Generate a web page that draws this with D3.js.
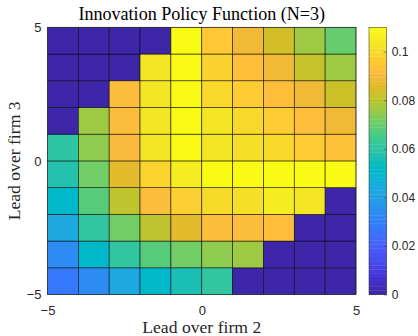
<!DOCTYPE html>
<html><head><meta charset="utf-8">
<script src="https://cdn.jsdelivr.net/npm/d3@7"></script>
<style>body{margin:0;background:#fff}</style>
</head><body><svg id="c" width="418" height="336"></svg>
<script>
// Cell lower-left corners (lead over firm 2 along x, lead over firm 3 along y)
const xLeft = [-5, -4, -3, -2, -1, 0, 1, 2, 3, 4];
const yBottom = [-5, -4, -3, -2, -1, 0, 1, 2, 3, 4];
// Innovation policy values, rows from y = -5 (bottom) upward, columns from x = -5 rightward
const row_m5 = [0.027, 0.033, 0.043, 0.0506, 0.056, 0.061, 0, 0, 0, 0];
const row_m4 = [0.033, 0.0506, 0.061, 0.068, 0.0715, 0.075, 0.077, 0, 0, 0];
const row_m3 = [0.043, 0.061, 0.0715, 0.081, 0.087, 0.092, 0.092, 0.0925, 0, 0];
const row_m2 = [0.0506, 0.068, 0.081, 0.092, 0.098, 0.101, 0.102, 0.1055, 0.104, 0];
const row_m1 = [0.0577, 0.0715, 0.087, 0.099, 0.106, 0.110, 0.110, 0.110, 0.110, 0.110];
const row_0  = [0.060, 0.075, 0.091, 0.104, 0.110, 0.104, 0.102, 0.100, 0.097, 0.094];
const row_1  = [0, 0.077, 0.092, 0.104, 0.110, 0.104, 0.100, 0.097, 0.0925, 0.089];
const row_2  = [0, 0, 0.092, 0.104, 0.110, 0.100, 0.097, 0.0925, 0.089, 0.083];
const row_3  = [0, 0, 0, 0.104, 0.110, 0.0985, 0.0925, 0.089, 0.082, 0.077];
const row_4  = [0, 0, 0, 0, 0.110, 0.096, 0.089, 0.084, 0.077, 0.070];
const rows = [row_m5, row_m4, row_m3, row_m2, row_m1, row_0, row_1, row_2, row_3, row_4];
const xTicks = [-5, 0, 5];
const yTicks = [-5, 0, 5];
const cTicks = [0, 0.02, 0.04, 0.06, 0.08, 0.1];
const cMin = 0, cMax = 0.11;

// MATLAB parula colormap (64 entries)
const parula = [[0.2422,0.1504,0.6603],[0.2504,0.1650,0.7076],[0.2578,0.1818,0.7511],[0.2647,0.1978,0.7952],[0.2706,0.2147,0.8364],[0.2751,0.2342,0.8710],[0.2783,0.2559,0.8991],[0.2803,0.2782,0.9221],[0.2813,0.3006,0.9414],[0.2810,0.3228,0.9579],[0.2795,0.3447,0.9717],[0.2760,0.3667,0.9829],[0.2699,0.3892,0.9906],[0.2602,0.4123,0.9952],[0.2440,0.4358,0.9988],[0.2206,0.4603,0.9973],[0.1963,0.4847,0.9892],[0.1834,0.5074,0.9798],[0.1786,0.5289,0.9682],[0.1764,0.5499,0.9520],[0.1687,0.5703,0.9359],[0.1540,0.5902,0.9218],[0.1460,0.6091,0.9079],[0.1380,0.6276,0.8973],[0.1248,0.6459,0.8883],[0.1113,0.6635,0.8763],[0.0952,0.6798,0.8598],[0.0689,0.6948,0.8394],[0.0297,0.7082,0.8163],[0.0036,0.7203,0.7917],[0.0067,0.7312,0.7660],[0.0433,0.7411,0.7394],[0.0964,0.7500,0.7120],[0.1408,0.7584,0.6842],[0.1717,0.7670,0.6554],[0.1938,0.7758,0.6251],[0.2161,0.7843,0.5923],[0.2470,0.7918,0.5567],[0.2906,0.7973,0.5188],[0.3406,0.8008,0.4789],[0.3909,0.8029,0.4354],[0.4456,0.8024,0.3909],[0.5044,0.7993,0.3480],[0.5616,0.7942,0.3045],[0.6174,0.7876,0.2612],[0.6720,0.7793,0.2227],[0.7242,0.7698,0.1910],[0.7738,0.7598,0.1646],[0.8203,0.7498,0.1535],[0.8634,0.7406,0.1596],[0.9035,0.7330,0.1774],[0.9393,0.7288,0.2100],[0.9728,0.7298,0.2394],[0.9956,0.7434,0.2371],[0.9970,0.7659,0.2199],[0.9952,0.7893,0.2028],[0.9892,0.8136,0.1885],[0.9786,0.8386,0.1766],[0.9676,0.8639,0.1643],[0.9610,0.8890,0.1537],[0.9597,0.9135,0.1423],[0.9628,0.9373,0.1265],[0.9691,0.9606,0.1064],[0.9769,0.9839,0.0805]]
  .map(c => d3.rgb(c[0]*255, c[1]*255, c[2]*255).formatHex());

const color = d3.scaleLinear()
  .domain(parula.map((_, i) => cMin + (cMax - cMin) * i / (parula.length - 1)))
  .range(parula).clamp(true);

const svg = d3.select("#c");
const L = 47.5, R = 356, T = 27.3, B = 294.5;
const x = d3.scaleLinear([-5, 5], [L, R]);
const y = d3.scaleLinear([-5, 5], [B, T]);

const cells = [];
rows.forEach((row, r) => row.forEach((v, c) => cells.push({x0: xLeft[c], y0: yBottom[r], v})));

svg.append("g").selectAll("rect").data(cells).join("rect")
  .attr("x", d => x(d.x0))
  .attr("y", d => y(d.y0 + 1))
  .attr("width", d => x(d.x0 + 1) - x(d.x0))
  .attr("height", d => y(d.y0) - y(d.y0 + 1))
  .attr("fill", d => color(d.v))
  .attr("stroke", "#000").attr("stroke-width", 0.7).attr("stroke-opacity", 0.75);

// Axes box
svg.append("rect").attr("x", L).attr("y", T).attr("width", R - L).attr("height", B - T)
  .attr("fill", "none").attr("stroke", "#262626").attr("stroke-width", 0.5);

const tickFont = "Liberation Sans, Arial, sans-serif";
const gx = svg.append("g").attr("transform", `translate(0,${B})`)
  .call(d3.axisBottom(x).tickValues(xTicks).tickSize(0).tickPadding(11).tickFormat(d3.format("d")));
const gy = svg.append("g").attr("transform", `translate(${L},0)`)
  .call(d3.axisLeft(y).tickValues(yTicks).tickSize(0).tickPadding(6).tickFormat(d3.format("d")));
[gx, gy].forEach(g => {
  g.select(".domain").remove();
  g.selectAll("text").attr("font-family", tickFont).attr("font-size", 13).attr("fill", "#262626");
});

// Colorbar
const CL = 369, CR = 386.7, CT = 27.3, CB = 294.5;
const cy = d3.scaleLinear([cMin, cMax], [CB, CT]);
const bands = parula.map((col, i) => ({col, i}));
const n = parula.length;
svg.append("g").selectAll("rect").data(bands).join("rect")
  .attr("x", CL).attr("width", CR - CL)
  .attr("y", d => cy(cMin + (cMax - cMin) * (d.i + 1) / n))
  .attr("height", d => cy(cMin + (cMax - cMin) * d.i / n) - cy(cMin + (cMax - cMin) * (d.i + 1) / n) + 0.3)
  .attr("fill", d => d.col);
svg.append("rect").attr("x", CL).attr("y", CT).attr("width", CR - CL).attr("height", CB - CT)
  .attr("fill", "none").attr("stroke", "#262626").attr("stroke-width", 0.5);
const gc = svg.append("g").attr("transform", `translate(${CR},0)`)
  .call(d3.axisRight(cy).tickValues(cTicks).tickSizeInner(-3).tickSizeOuter(0).tickPadding(5).tickFormat(d => d3.format("")(+d.toFixed(2))));
gc.select(".domain").remove();
gc.selectAll("line").attr("stroke", "#262626").attr("stroke-width", 0.5);
gc.selectAll("text").attr("font-family", tickFont).attr("font-size", 12).attr("fill", "#262626");

// Title and labels (serif, fitted to reference widths)
const serif = "Liberation Serif, Times New Roman, serif";
function fitText(t, target) {
  const w = t.node().getComputedTextLength();
  const fs = parseFloat(t.attr("font-size"));
  t.attr("font-size", fs * target / w);
}
const title = svg.append("text").attr("x", (L + R) / 2).attr("y", 19.5)
  .attr("text-anchor", "middle").attr("font-family", serif).attr("font-size", 16).attr("fill", "#000")
  .text("Innovation Policy Function (N=3)");
fitText(title, 247);
const xl = svg.append("text").attr("x", (L + R) / 2).attr("y", 333)
  .attr("text-anchor", "middle").attr("font-family", serif).attr("font-size", 15).attr("fill", "#262626")
  .text("Lead over firm 2");
fitText(xl, 119);
const yl = svg.append("text").attr("transform", `translate(20,${(T + B) / 2}) rotate(-90)`)
  .attr("text-anchor", "middle").attr("font-family", serif).attr("font-size", 15).attr("fill", "#262626")
  .text("Lead over firm 3");
fitText(yl, 119);
</script></body></html>
